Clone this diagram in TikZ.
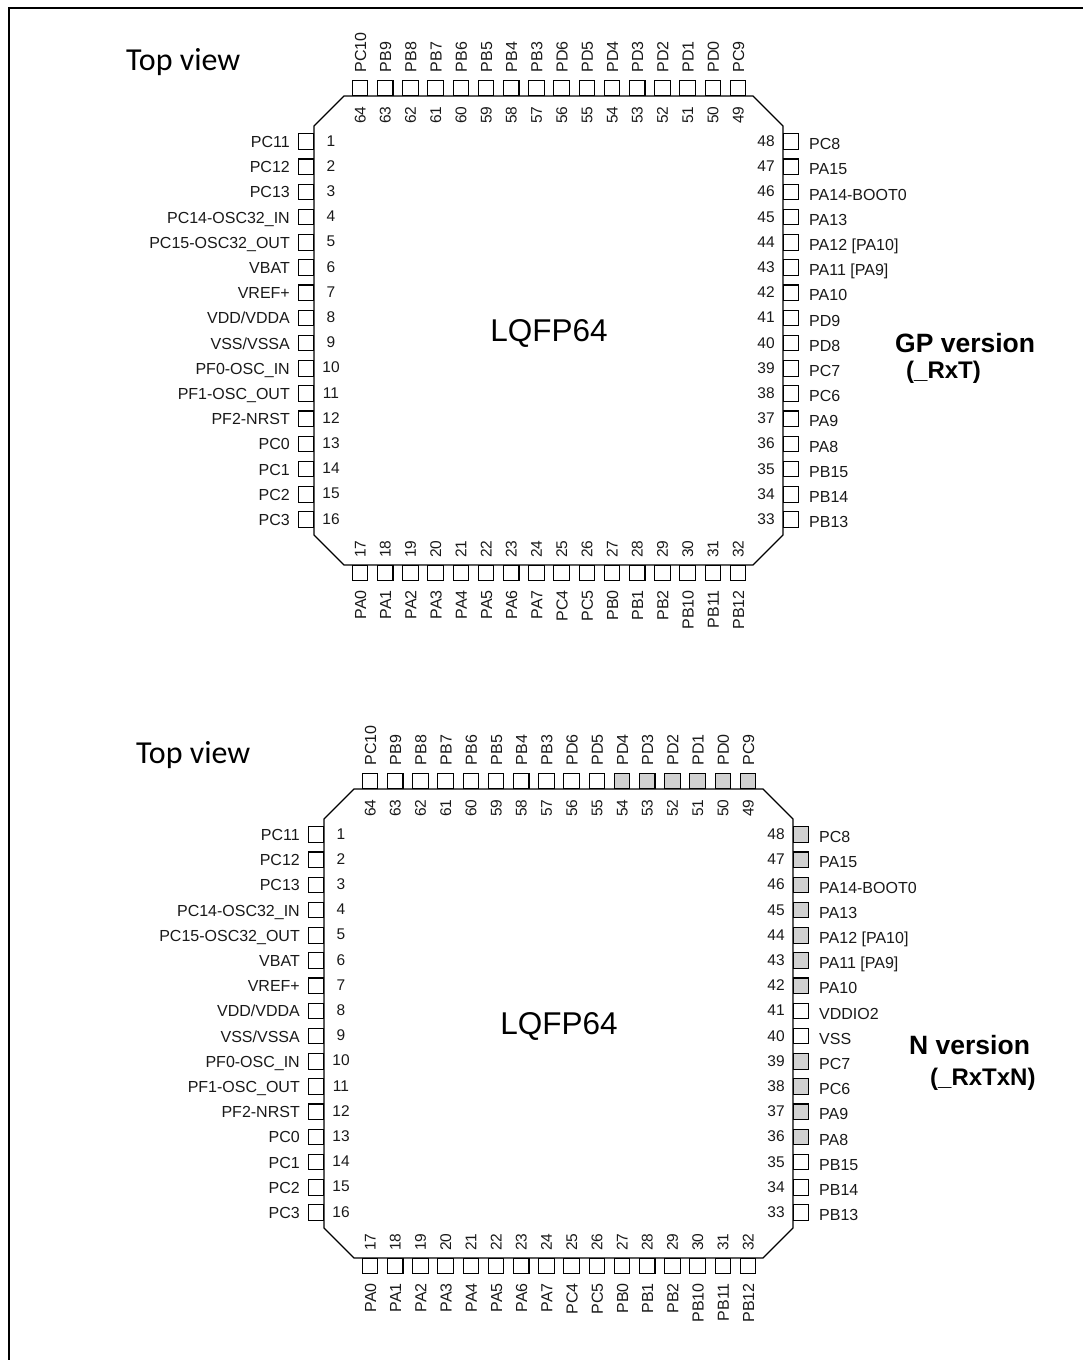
\documentclass[tikz,border=0pt]{standalone}
\usepackage{fontspec}
\setmainfont{Liberation Sans}
\newfontfamily\calib{Carlito}
\tikzset{x=1pt,y=-1pt,
 pad/.style={draw=black,line width=1.1pt,minimum size=15.5pt,inner sep=0pt,outer sep=0pt},
 shaded/.style={pad,fill=black!18},
 txt/.style={font=\fontsize{16}{18}\selectfont,inner sep=0pt,text=black!90},
 num/.style={font=\fontsize{15.5}{17}\selectfont,inner sep=0pt,text=black!90},
 body/.style={draw=black,line width=1.1pt},
 title/.style={font=\calib\fontsize{32}{36}\selectfont,inner sep=0pt,anchor=west},
 pkg/.style={font=\fontsize{31.5}{34}\selectfont,inner sep=0pt,anchor=base},
 bigl/.style={font=\bfseries\fontsize{26.5}{30}\selectfont,inner sep=0pt,anchor=base west},
 subl/.style={font=\bfseries\fontsize{24}{28}\selectfont,inner sep=0pt,anchor=base west}}
\newcommand{\chipdraw}[7]{% prefix, dx, dy, left list, right list, top list, bottom list
 \begin{scope}[shift={(#2,#3)}]
 \draw[body] (0,126)--(30,96)--(439,96)--(469,126)--(469,535)--(439,565)--(30,565)--(0,535)--cycle;
 \foreach \n/\t in {#4}{
  \pgfmathsetmacro\yy{141.5+25.2*(\n-1)}
  \node[pad] (#1p\n) at (-8,\yy) {};
  \node[txt,anchor=base east] (#1l\n) at (-24,\yy+6) {\t};
  \node[num,anchor=base] (#1n\n) at (17,\yy+4.5) {\n};
 }
 \foreach \n/\t/\s in {#5}{
  \pgfmathsetmacro\yy{141.5+25.2*(48-\n)}
  \node[\s] (#1p\n) at (477,\yy) {};
  \node[txt,anchor=base west] (#1l\n) at (495,\yy+8.2) {\t};
  \node[num,anchor=base] (#1n\n) at (452,\yy+5) {\n};
 }
 \foreach \n/\t/\s in {#6}{
  \pgfmathsetmacro\xx{46+25.2*(64-\n)}
  \node[\s] (#1p\n) at (\xx,88) {};
  \node[txt,rotate=90,anchor=base west] (#1l\n) at (\xx+6,72.5) {\t};
  \node[num,rotate=90,anchor=base] (#1n\n) at (\xx+5.5,115) {\n};
 }
 \foreach \n/\t in {#7}{
  \pgfmathsetmacro\xx{46+25.2*(\n-17)}
  \node[pad] (#1p\n) at (\xx,573) {};
  \node[txt,rotate=90,anchor=base east] (#1l\n) at (\xx+6,590) {\t};
  \node[num,rotate=90,anchor=base] (#1n\n) at (\xx+5.5,549) {\n};
 }
 \end{scope}}
\begin{document}
\begin{tikzpicture}
\useasboundingbox (0,0) rectangle (1084,1360);
\draw[line width=2pt] (9,1360)--(9,8)--(1083,8);
\chipdraw{a}{314}{0}{1/PC11,2/PC12,3/PC13,4/PC14-OSC32\_IN,5/PC15-OSC32\_OUT,6/VBAT,7/VREF+,8/VDD\slash VDDA,9/VSS\slash VSSA,10/PF0-OSC\_IN,11/PF1-OSC\_OUT,12/PF2-NRST,13/PC0,14/PC1,15/PC2,16/PC3}
{48/PC8/pad,47/PA15/pad,46/PA14-BOOT0/pad,45/PA13/pad,44/PA12 [PA10]/pad,43/PA11 [PA9]/pad,42/PA10/pad,41/PD9/pad,40/PD8/pad,39/PC7/pad,38/PC6/pad,37/PA9/pad,36/PA8/pad,35/PB15/pad,34/PB14/pad,33/PB13/pad}
{64/PC10/pad,63/PB9/pad,62/PB8/pad,61/PB7/pad,60/PB6/pad,59/PB5/pad,58/PB4/pad,57/PB3/pad,56/PD6/pad,55/PD5/pad,54/PD4/pad,53/PD3/pad,52/PD2/pad,51/PD1/pad,50/PD0/pad,49/PC9/pad}
{17/PA0,18/PA1,19/PA2,20/PA3,21/PA4,22/PA5,23/PA6,24/PA7,25/PC4,26/PC5,27/PB0,28/PB1,29/PB2,30/PB10,31/PB11,32/PB12}
\chipdraw{b}{324}{693}{1/PC11,2/PC12,3/PC13,4/PC14-OSC32\_IN,5/PC15-OSC32\_OUT,6/VBAT,7/VREF+,8/VDD\slash VDDA,9/VSS\slash VSSA,10/PF0-OSC\_IN,11/PF1-OSC\_OUT,12/PF2-NRST,13/PC0,14/PC1,15/PC2,16/PC3}
{48/PC8/shaded,47/PA15/shaded,46/PA14-BOOT0/shaded,45/PA13/shaded,44/PA12 [PA10]/shaded,43/PA11 [PA9]/shaded,42/PA10/shaded,41/VDDIO2/pad,40/VSS/pad,39/PC7/shaded,38/PC6/shaded,37/PA9/shaded,36/PA8/shaded,35/PB15/pad,34/PB14/pad,33/PB13/pad}
{64/PC10/pad,63/PB9/pad,62/PB8/pad,61/PB7/pad,60/PB6/pad,59/PB5/pad,58/PB4/pad,57/PB3/pad,56/PD6/pad,55/PD5/pad,54/PD4/shaded,53/PD3/shaded,52/PD2/shaded,51/PD1/shaded,50/PD0/shaded,49/PC9/shaded}
{17/PA0,18/PA1,19/PA2,20/PA3,21/PA4,22/PA5,23/PA6,24/PA7,25/PC4,26/PC5,27/PB0,28/PB1,29/PB2,30/PB10,31/PB11,32/PB12}
\node[title] (t1) at (126,62) {Top view};
\node[title] (t2) at (136,755) {Top view};
\node[pkg] (q1) at (549,341) {LQFP64};
\node[pkg] (q2) at (559,1034) {LQFP64};
\node[bigl] (g1) at (895,352) {GP version};
\node[subl] (g2) at (906,378) {(\_RxT)};
\node[bigl] (n1) at (909,1054) {N version};
\node[subl] (n2) at (930,1085) {(\_RxTxN)};
\end{tikzpicture}
\end{document}
